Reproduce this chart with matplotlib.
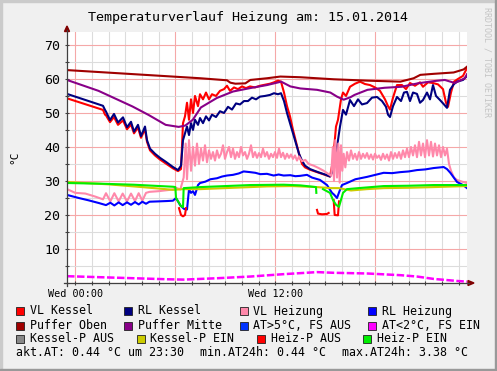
import matplotlib
matplotlib.use("Agg")
import matplotlib.pyplot as plt
import matplotlib.ticker as mtick
from matplotlib.patches import Rectangle, Polygon
from matplotlib.lines import Line2D

plt.rcParams["font.family"] = ["DejaVu Sans Mono"]

W, H = 497, 371

title = "Temperaturverlauf Heizung am: 15.01.2014"
day_name = "Wed"
unit = "°C"

# (hour, degC), hour 0 = Wed 00:00
vl_kessel = [
    (-0.5, 54.3), (1.66, 50.9), (1.78, 49.5), (1.84, 49.3), (2.08, 47.3), (2.32, 48.8), (2.56, 46.5),
    (2.86, 47.8), (3.10, 45.2), (3.34, 46.6), (3.52, 44.0), (3.76, 45.7), (3.94, 42.7), (4.18, 45.2),
    (4.30, 41.5), (4.48, 39.0), (4.78, 37.5), (5.08, 36.3), (5.44, 35.1), (5.86, 33.7), (6.16, 32.9),
    (6.34, 33.5), (6.46, 47.0), (6.58, 49.0), (6.70, 53.0), (6.82, 48.0), (6.94, 54.0), (7.06, 50.0),
    (7.18, 55.0), (7.36, 52.0), (7.48, 55.5), (7.66, 54.0), (7.84, 56.0), (8.02, 54.0), (8.20, 55.5),
    (8.44, 55.0), (8.68, 56.5), (8.92, 57.0), (9.10, 58.0), (9.28, 56.5), (9.52, 57.5), (9.76, 57.0),
    (10.00, 57.8), (10.24, 57.3), (10.48, 57.8), (10.78, 57.5), (11.08, 58.0), (11.38, 58.3),
    (11.68, 58.6), (11.92, 59.0), (12.16, 59.5), (12.34, 59.2), (12.52, 56.0), (12.70, 52.0),
    (12.88, 49.0), (13.06, 45.0), (13.24, 41.5), (13.42, 38.0), (13.60, 35.0), (13.78, 34.0),
    (14.08, 33.3), (14.56, 32.5), (14.98, 31.8), (15.28, 31.3), (15.46, 36.0), (15.64, 46.0),
    (15.76, 48.0), (15.94, 54.0), (16.06, 56.0), (16.24, 55.0), (16.48, 57.7), (16.78, 58.6),
    (17.08, 59.2), (17.38, 58.5), (17.68, 58.2), (17.98, 57.5), (18.28, 56.5), (18.58, 54.0),
    (18.76, 52.0), (18.88, 51.0), (19.06, 54.5), (19.30, 58.2), (19.60, 58.2), (19.84, 57.0),
    (20.08, 58.8), (20.38, 58.0), (20.68, 59.0), (20.86, 57.7), (21.16, 59.0), (21.46, 58.8),
    (21.76, 58.4), (22.06, 57.0), (22.24, 53.0), (22.36, 51.8), (22.54, 56.0), (22.72, 59.2),
    (22.96, 60.0), (23.26, 60.9), (23.50, 63.2),
]

rl_kessel = [
    (-0.5, 55.6), (1.66, 52.1), (1.78, 50.9), (1.84, 50.4), (2.08, 47.9), (2.32, 49.7), (2.56, 47.2),
    (2.86, 48.7), (3.10, 45.8), (3.34, 47.4), (3.52, 44.5), (3.76, 46.5), (3.94, 43.2), (4.18, 46.0),
    (4.30, 42.0), (4.48, 39.5), (4.78, 38.0), (5.08, 36.8), (5.44, 35.6), (5.86, 34.1), (6.16, 33.2),
    (6.34, 34.5), (6.46, 42.0), (6.58, 44.0), (6.70, 46.0), (6.82, 43.5), (6.94, 47.0), (7.06, 45.0),
    (7.18, 48.0), (7.36, 46.5), (7.48, 48.5), (7.66, 47.0), (7.84, 49.0), (8.02, 47.8), (8.20, 49.5),
    (8.44, 48.8), (8.68, 50.5), (8.92, 50.0), (9.16, 51.8), (9.40, 51.0), (9.64, 52.8), (9.88, 52.5),
    (10.12, 53.5), (10.36, 53.5), (10.60, 54.5), (10.84, 54.0), (11.08, 54.8), (11.38, 55.0),
    (11.68, 55.3), (11.92, 55.8), (12.16, 55.5), (12.34, 55.8), (12.52, 53.5), (12.70, 50.0),
    (12.88, 47.0), (13.06, 44.0), (13.24, 41.0), (13.42, 38.0), (13.60, 36.0), (13.78, 34.5),
    (14.08, 33.5), (14.56, 32.6), (14.98, 31.9), (15.28, 31.3), (15.46, 33.0), (15.64, 38.0),
    (15.76, 42.0), (15.88, 46.0), (16.06, 50.9), (16.24, 49.5), (16.48, 53.8), (16.72, 52.0),
    (16.96, 54.0), (17.20, 52.5), (17.50, 52.9), (17.80, 54.5), (18.10, 54.7), (18.40, 53.5),
    (18.64, 51.8), (18.76, 49.5), (18.88, 48.8), (19.06, 52.0), (19.30, 54.7), (19.54, 53.5),
    (19.72, 56.0), (19.90, 56.2), (20.08, 53.5), (20.26, 56.0), (20.50, 55.6), (20.68, 53.0),
    (20.86, 53.8), (21.10, 56.0), (21.28, 54.0), (21.46, 58.2), (21.64, 55.0), (21.88, 53.8),
    (22.12, 52.5), (22.30, 51.5), (22.48, 56.8), (22.72, 58.5), (22.90, 59.2), (23.26, 59.7),
    (23.50, 60.9),
]

vl_heizung = [
    (-0.5, 27.6), (0.0, 26.5), (0.6, 26.3), (1.2, 25.4), (1.66, 24.6), (1.84, 26.4), (2.10, 24.0),
    (2.34, 26.4), (2.60, 24.0), (2.84, 26.3), (3.10, 24.0), (3.34, 26.3), (3.58, 24.1), (3.80, 26.4),
    (4.02, 24.2), (4.24, 26.5), (4.45, 26.8), (5.0, 27.0), (5.5, 27.3), (5.86, 27.5), (6.04, 28.0),
    (6.30, 27.5), (6.50, 31.0), (6.62, 41.0), (6.70, 30.5), (6.82, 42.0), (6.94, 33.0), (7.06, 40.0),
    (7.18, 34.5), (7.30, 41.0), (7.42, 35.0), (7.54, 39.5), (7.66, 36.0), (7.78, 40.5), (7.90, 35.5),
    (8.02, 39.0), (8.14, 36.5), (8.26, 38.5), (8.38, 36.0), (8.50, 39.0), (8.62, 36.8), (8.74, 38.0),
    (8.86, 40.5), (8.98, 36.5), (9.10, 38.5), (9.22, 40.0), (9.34, 37.0), (9.46, 39.5), (9.58, 36.5),
    (9.70, 38.5), (9.82, 37.0), (9.94, 40.0), (10.06, 37.5), (10.18, 38.5), (10.30, 36.5),
    (10.42, 38.0), (10.54, 40.5), (10.66, 37.0), (10.78, 38.5), (10.90, 36.8), (11.02, 38.2),
    (11.14, 37.0), (11.26, 39.5), (11.38, 37.2), (11.50, 38.5), (11.62, 36.5), (11.74, 38.0),
    (11.86, 37.0), (11.98, 38.5), (12.10, 36.8), (12.22, 39.5), (12.34, 37.0), (12.46, 38.3),
    (12.58, 36.5), (12.70, 38.0), (12.82, 36.8), (12.94, 37.8), (13.06, 36.5), (13.18, 37.5),
    (13.30, 36.0), (13.42, 37.2), (13.60, 35.8), (13.80, 36.2), (14.00, 35.0), (14.30, 34.5),
    (14.60, 33.8), (14.90, 33.0), (15.20, 32.0), (15.35, 31.5), (15.45, 40.0), (15.52, 30.0),
    (15.60, 42.0), (15.70, 31.0), (15.78, 41.0), (15.86, 29.5), (15.94, 40.5), (16.02, 33.0),
    (16.10, 38.0), (16.20, 34.0), (16.30, 38.5), (16.42, 36.0), (16.54, 39.0), (16.66, 36.5),
    (16.78, 38.0), (16.90, 36.2), (17.02, 38.5), (17.14, 36.5), (17.26, 38.0), (17.38, 36.8),
    (17.50, 38.2), (17.62, 36.5), (17.74, 37.8), (17.86, 36.3), (17.98, 38.0), (18.10, 36.8),
    (18.22, 37.5), (18.34, 36.2), (18.46, 38.0), (18.58, 36.5), (18.70, 37.8), (18.82, 36.0),
    (18.94, 38.5), (19.06, 36.5), (19.18, 38.2), (19.30, 36.8), (19.42, 38.5), (19.54, 36.5),
    (19.66, 39.0), (19.78, 37.0), (19.90, 39.5), (20.02, 37.0), (20.14, 40.0), (20.26, 37.5),
    (20.38, 40.5), (20.50, 37.0), (20.62, 41.5), (20.74, 37.5), (20.86, 41.0), (20.98, 37.0),
    (21.10, 42.0), (21.22, 37.5), (21.34, 41.5), (21.46, 37.2), (21.58, 41.0), (21.70, 37.5),
    (21.82, 40.5), (21.94, 37.0), (22.06, 40.0), (22.18, 37.5), (22.30, 39.5), (22.42, 35.0),
    (22.54, 33.0), (22.72, 31.0), (22.90, 30.3), (23.20, 29.8), (23.50, 29.4),
]

rl_heizung = [
    (-0.5, 25.9), (0.2, 25.0), (0.8, 24.3), (1.42, 23.5), (1.84, 22.9), (2.10, 23.6), (2.34, 22.8),
    (2.60, 23.7), (2.84, 22.9), (3.10, 23.7), (3.34, 23.0), (3.58, 23.8), (3.80, 23.1), (4.02, 23.9),
    (4.24, 23.3), (4.45, 23.9), (5.00, 24.0), (5.50, 24.1), (5.86, 24.2), (6.04, 25.0), (6.30, 22.8),
    (6.52, 21.8), (6.70, 21.6), (6.82, 27.5), (6.94, 26.5), (7.06, 27.0), (7.18, 25.9), (7.36, 28.8),
    (7.48, 29.4), (7.80, 29.8), (8.10, 30.5), (8.50, 30.8), (8.80, 31.3), (9.10, 31.6), (9.46, 31.8),
    (9.80, 32.2), (10.10, 32.8), (10.48, 32.6), (10.80, 32.4), (11.10, 32.0), (11.50, 32.1),
    (11.90, 31.6), (12.20, 31.9), (12.50, 31.6), (12.90, 31.7), (13.20, 31.4), (13.48, 31.5),
    (13.90, 31.8), (14.20, 31.0), (14.68, 30.3), (15.10, 28.8), (15.40, 26.5), (15.52, 26.0),
    (15.70, 25.0), (15.85, 27.0), (16.00, 28.8), (16.30, 29.4), (16.80, 30.5), (17.50, 31.2),
    (18.00, 31.8), (18.50, 32.4), (19.00, 32.3), (19.50, 32.6), (20.00, 32.8), (20.50, 33.2),
    (21.00, 33.4), (21.50, 33.8), (22.10, 34.1), (22.30, 33.5), (22.50, 32.4), (22.90, 29.7),
    (23.26, 28.8), (23.50, 27.9),
]

puffer_oben = [
    (-0.5, 62.6), (3.5, 61.4), (7.5, 60.2), (9.1, 59.6), (9.3, 58.9), (9.6, 58.6), (10.2, 58.7),
    (10.5, 59.7), (11.5, 60.2), (12.3, 60.7), (13.5, 60.5), (15.5, 59.9), (17.5, 59.5), (19.5, 59.2),
    (20.3, 60.2), (20.7, 61.2), (21.5, 61.5), (22.7, 61.9), (23.3, 62.8), (23.5, 63.6),
]

puffer_mitte = [
    (-0.5, 59.7), (1.39, 56.5), (3.43, 51.9), (4.40, 49.4), (5.42, 46.5), (6.20, 45.9), (6.60, 46.3),
    (7.05, 48.0), (7.53, 51.6), (8.49, 54.4), (9.46, 56.3), (10.48, 57.3), (11.50, 58.2),
    (12.35, 59.2), (12.90, 57.8), (13.50, 57.2), (14.50, 56.8), (15.30, 56.0), (15.70, 54.8),
    (16.10, 53.9), (16.50, 54.6), (16.75, 55.3), (17.53, 56.8), (18.55, 57.4), (19.58, 57.7),
    (20.54, 58.7), (21.57, 59.4), (22.17, 59.7), (22.77, 58.8), (23.37, 60.2), (23.50, 61.4),
]

aussen = [
    (-0.5, 2.0), (1.5, 1.7), (3.5, 1.4), (5.5, 1.1), (6.5, 1.0), (8.5, 1.4), (10.5, 1.9), (12.5, 2.6),
    (13.5, 2.9), (14.5, 3.2), (15.5, 3.0), (17.5, 2.8), (19.5, 2.3), (20.5, 1.9), (21.5, 1.2),
    (22.9, 0.6), (23.5, 0.4),
]

kessel_p_ein = [
    (-0.5, 29.7), (2.0, 29.0), (4.0, 28.2), (5.86, 27.4), (6.5, 27.6), (7.5, 27.6), (9.5, 28.0),
    (11.5, 28.4), (13.0, 28.5), (14.5, 28.2), (15.3, 27.9), (15.8, 27.9), (16.54, 27.2), (17.5, 27.6),
    (18.52, 27.9), (20.0, 28.0), (21.5, 28.2), (23.5, 28.5),
]

heiz_p_aus = [
    [(6.22, 22.0), (6.34, 20.0), (6.46, 19.6), (6.58, 20.0), (6.64, 22.0)],
    [(14.50, 21.5), (14.56, 20.4), (14.80, 20.2), (15.10, 20.3), (15.20, 20.6)],
    [(15.50, 24.4), (15.56, 20.0), (15.76, 19.9), (15.82, 24.0)],
]

heiz_p_ein = [
    [(-0.5, 29.4), (1.5, 29.2), (3.5, 28.9), (5.86, 28.3), (6.0, 28.2), (6.04, 25.0), (6.34, 22.6),
     (6.46, 22.3), (6.50, 27.9), (7.5, 28.2), (9.0, 28.5), (10.5, 28.8), (12.5, 28.9), (13.5, 28.7),
     (14.26, 28.3), (14.44, 28.2), (14.46, 26.5)],
    [(14.86, 27.6), (15.28, 26.5), (15.46, 24.4), (15.64, 23.0), (15.82, 22.4), (16.06, 26.5),
     (16.30, 27.6), (17.0, 27.9), (18.5, 28.5), (20.0, 28.6), (21.5, 28.8), (23.5, 28.8)],
]

legend_labels = [
    "VL Kessel", "RL Kessel", "VL Heizung", "RL Heizung",
    "Puffer Oben", "Puffer Mitte", "AT>5°C, FS AUS", "AT<2°C, FS EIN",
    "Kessel-P AUS", "Kessel-P EIN", "Heiz-P AUS", "Heiz-P EIN",
]
legend_colors = [
    "#ff0000", "#000080", "#ff88aa", "#0000ff",
    "#a00000", "#880088", "#0033ff", "#ff00ff",
    "#888888", "#cccc00", "#ff0000", "#00ee00",
]

akt_at, akt_time = 0.44, "23:30"
min_at, max_at = 0.44, 3.38


def fx(x):
    return x / W


def fy(y):
    return 1 - y / H


def draw(ax, pts, color, **kw):
    xs = [p[0] for p in pts]
    ys = [p[1] for p in pts]
    ax.plot(xs, ys, color=color, lw=kw.pop("lw", 1.5), solid_joinstyle="round", **kw)


fig = plt.figure(figsize=(W / 100, H / 100), dpi=100, facecolor="#f0f0f0")
ax = fig.add_axes([fx(67), fy(283), 400 / W, 251 / H])
ax.set_facecolor("white")
ax.set_xlim(-0.5, 23.5)
ax.set_ylim(0, 73.8)

ax.xaxis.set_major_locator(mtick.MultipleLocator(6))
ax.xaxis.set_minor_locator(mtick.MultipleLocator(1))
ax.yaxis.set_major_locator(mtick.MultipleLocator(10))
ax.yaxis.set_minor_locator(mtick.MultipleLocator(5))
ax.xaxis.set_major_formatter(mtick.FuncFormatter(
    lambda v, p: f"{day_name} {int(v):02d}:00" if v in (0, 12) else ""))
ax.yaxis.set_major_formatter(mtick.FuncFormatter(lambda v, p: f"{v:.0f}" if v > 0 else ""))
ax.grid(which="minor", color="#dcdcdc", lw=0.8)
ax.grid(which="major", color="#f5a8a8", lw=0.8)
ax.set_axisbelow(True)
ax.tick_params(which="both", direction="inout", length=3, width=0.8, color="#404040")
ax.tick_params(axis="x", labelsize=7.3, pad=2.5)
ax.tick_params(axis="y", labelsize=9.5, pad=3.5)
for s in ax.spines.values():
    s.set_visible(False)

draw(ax, vl_kessel, legend_colors[0])
draw(ax, rl_kessel, legend_colors[1])
draw(ax, vl_heizung, legend_colors[2])
draw(ax, rl_heizung, legend_colors[3])
draw(ax, puffer_oben, legend_colors[4])
draw(ax, puffer_mitte, legend_colors[5])
draw(ax, aussen, legend_colors[7], lw=1.8, linestyle=(0, (3, 1)))
draw(ax, kessel_p_ein, legend_colors[9])
for seg in heiz_p_aus:
    draw(ax, seg, legend_colors[10])
for seg in heiz_p_ein:
    draw(ax, seg, legend_colors[11])

# axes with arrows
axis_col = "#404040"
arrow_col = "#800000"
fig.add_artist(Line2D([fx(67), fx(67)], [fy(286), fy(30)], color=axis_col, lw=0.9))
fig.add_artist(Line2D([fx(64), fx(469)], [fy(283), fy(283)], color=axis_col, lw=0.9))
fig.add_artist(Polygon([(fx(67), fy(26)), (fx(64.5), fy(31.5)), (fx(69.5), fy(31.5))],
                       closed=True, color=arrow_col, transform=fig.transFigure))
fig.add_artist(Polygon([(fx(474), fy(283)), (fx(468), fy(280.5)), (fx(468), fy(285.5))],
                       closed=True, color=arrow_col, transform=fig.transFigure))

fig.text(fx(248), fy(17), title, ha="center", va="center", fontsize=9.6)
fig.text(fx(14), fy(157), unit, rotation=90, ha="center", va="center", fontsize=8)
fig.text(fx(487), fy(62), "RRDTOOL / TOBI OETIKER", rotation=270, ha="center", va="center",
         fontsize=6, color="#c4c4c4")

# legend
sw_x = [16, 124, 240, 368, 16, 124, 240, 368, 16, 137, 257, 363]
tx_x = [30, 138, 253, 382, 30, 138, 253, 382, 30, 150, 271, 377]
row_y = [311, 311, 311, 311, 325.5, 325.5, 325.5, 325.5, 339, 339, 339, 339]
for lab, col, sx, tx, ry in zip(legend_labels, legend_colors, sw_x, tx_x, row_y):
    fig.add_artist(Rectangle((fx(sx), fy(ry + 4)), 8 / W, 8 / H, transform=fig.transFigure,
                             facecolor=col, edgecolor="#202020", lw=0.6))
    fig.text(fx(tx), fy(ry), lab, ha="left", va="center", fontsize=8.4)

fig.text(fx(16), fy(353), f"akt.AT: {akt_at:.2f} °C um {akt_time}", ha="left", va="center", fontsize=8.4)
fig.text(fx(200), fy(353), f"min.AT24h: {min_at:.2f} °C", ha="left", va="center", fontsize=8.4)
fig.text(fx(342), fy(353), f"max.AT24h: {max_at:.2f} °C", ha="left", va="center", fontsize=8.4)

# canvas shading
fig.add_artist(Rectangle((0, fy(2)), 1, 2 / H, transform=fig.transFigure, color="#cbcbcb"))
fig.add_artist(Rectangle((0, 0), 2 / W, 1, transform=fig.transFigure, color="#cbcbcb"))
fig.add_artist(Rectangle((0, 0), 1, 2 / H, transform=fig.transFigure, color="#999999"))
fig.add_artist(Rectangle((fx(495), 0), 2 / W, 1, transform=fig.transFigure, color="#999999"))

fig.savefig("out.png", dpi=100, facecolor=fig.get_facecolor())
